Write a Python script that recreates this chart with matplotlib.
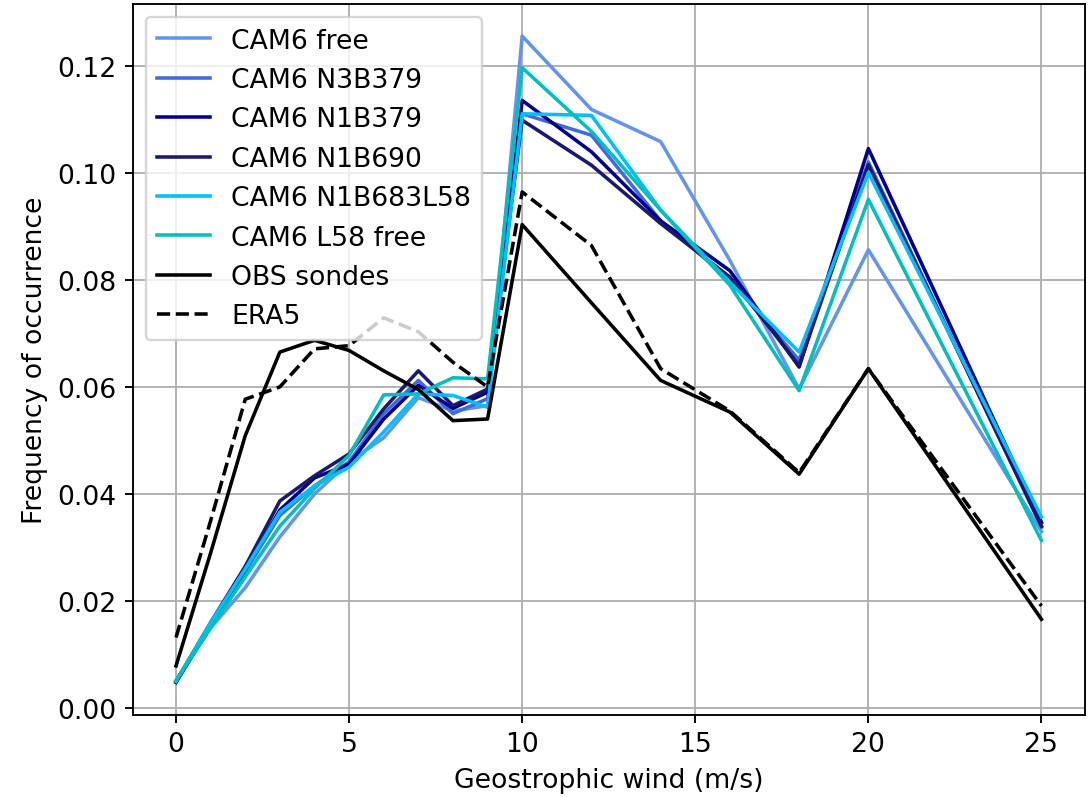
import numpy as np
import matplotlib
matplotlib.use('Agg')
import matplotlib.pyplot as plt

plt.rcParams['font.size'] = 11.3

# vitesse du vent géostrophique (m/s)
wind = [0, 1, 2, 3, 4, 5, 6, 7, 8, 9, 10, 12, 14, 16, 18, 20, 25]

cam6_free      = [0.0050, 0.0150, 0.0225, 0.0320, 0.0400, 0.0460, 0.0505, 0.0580, 0.0555, 0.0565, 0.1255, 0.1118, 0.1058, 0.0836, 0.0596, 0.0856, 0.0330]
cam6_n3b379    = [0.0050, 0.0155, 0.0255, 0.0360, 0.0415, 0.0460, 0.0550, 0.0612, 0.0550, 0.0578, 0.1110, 0.1070, 0.0910, 0.0800, 0.0650, 0.1020, 0.0338]
cam6_n1b379    = [0.0048, 0.0155, 0.0260, 0.0370, 0.0430, 0.0456, 0.0540, 0.0603, 0.0560, 0.0590, 0.1135, 0.1039, 0.0910, 0.0817, 0.0637, 0.1045, 0.0347]
cam6_n1b690    = [0.0050, 0.0160, 0.0265, 0.0387, 0.0434, 0.0475, 0.0559, 0.0630, 0.0565, 0.0596, 0.1098, 0.1014, 0.0905, 0.0805, 0.0640, 0.1015, 0.0340]
cam6_n1b683l58 = [0.0050, 0.0160, 0.0260, 0.0366, 0.0415, 0.0450, 0.0516, 0.0587, 0.0584, 0.0562, 0.1110, 0.1107, 0.0930, 0.0795, 0.0665, 0.1000, 0.0357]
cam6_l58_free  = [0.0052, 0.0150, 0.0245, 0.0340, 0.0410, 0.0472, 0.0585, 0.0587, 0.0617, 0.0615, 0.1196, 0.1077, 0.0930, 0.0790, 0.0593, 0.0950, 0.0313]
obs_sondes     = [0.0079, 0.0290, 0.0509, 0.0665, 0.0687, 0.0668, 0.0630, 0.0595, 0.0537, 0.0540, 0.0903, 0.0757, 0.0612, 0.0553, 0.0437, 0.0634, 0.0166]
era5           = [0.0132, 0.0350, 0.0577, 0.0600, 0.0671, 0.0677, 0.0729, 0.0703, 0.0646, 0.0600, 0.0964, 0.0864, 0.0634, 0.0555, 0.0440, 0.0634, 0.0191]

fig = plt.figure(figsize=(6.4, 4.694), dpi=170)
ax = fig.add_subplot(1, 1, 1)
ax.plot(wind, cam6_free, color='cornflowerblue', label='CAM6 free')
ax.plot(wind, cam6_n3b379, color='royalblue', label='CAM6 N3B379')
ax.plot(wind, cam6_n1b379, color='darkblue', label='CAM6 N1B379')
ax.plot(wind, cam6_n1b690, color='midnightblue', label='CAM6 N1B690')
ax.plot(wind, cam6_n1b683l58, color='deepskyblue', label='CAM6 N1B683L58')
ax.plot(wind, cam6_l58_free, color='c', label='CAM6 L58 free')
ax.plot(wind, obs_sondes, color='k', label='OBS sondes')
ax.plot(wind, era5, color='k', ls='--', label='ERA5')
ax.set_xlabel('Geostrophic wind (m/s)')
ax.set_ylabel('Frequency of occurrence')
ax.grid(True)
ax.legend(loc='upper left')
fig.subplots_adjust(left=0.122, right=0.997, top=0.994, bottom=0.103)
fig.savefig('out.png', dpi=170)
